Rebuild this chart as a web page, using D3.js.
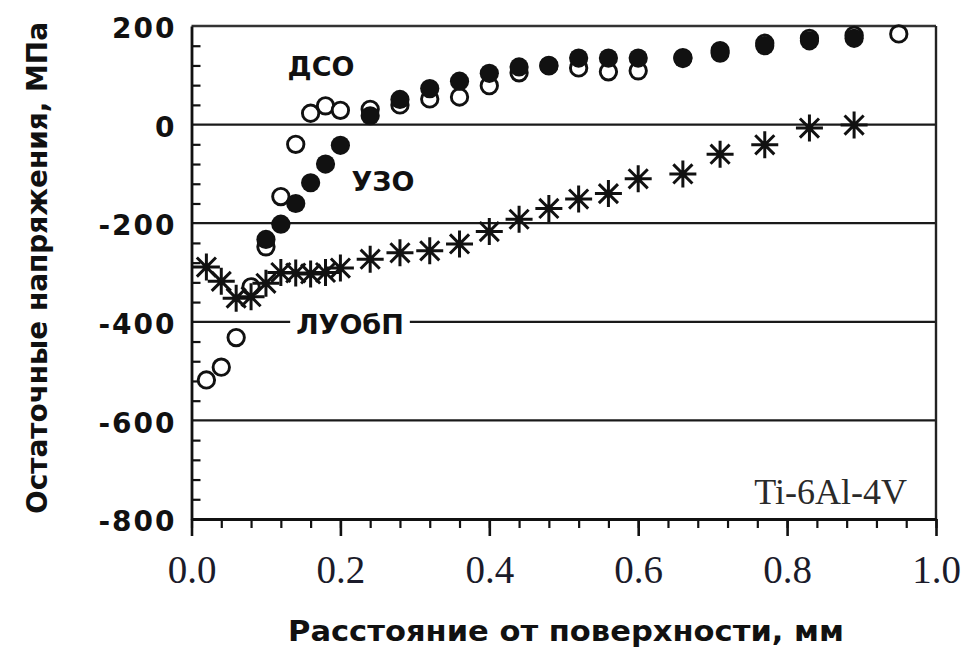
<!DOCTYPE html>
<html>
<head>
<meta charset="utf-8">
<script src="https://cdn.jsdelivr.net/npm/d3@7"></script>
<style>
  html, body { margin: 0; padding: 0; background: #fff; }
  svg { display: block; }
</style>
</head>
<body>
<svg id="chart" width="963" height="647"></svg>
<script>
// Depth below the surface, mm
const depth = [0.02, 0.04, 0.06, 0.08, 0.10, 0.12, 0.14, 0.16, 0.18, 0.20,
               0.24, 0.28, 0.32, 0.36, 0.40, 0.44, 0.48, 0.52, 0.56, 0.60,
               0.66, 0.71, 0.77, 0.83, 0.89, 0.95];

// ДСО — open circles, MPa
const dsoStress = [-518, -492, -432, -329, -248, -146, -40, 23, 38, 29,
                   31, 40, 52, 56, 79, 105, 120, 115, 107, 109,
                   136, 150, 165, 175, 181, 184];

// УЗО — filled circles, MPa (depths 0.10 … 0.89)
const uzoDepth = depth.slice(4, 25);
const uzoStress = [-233, -202, -160, -118, -80, -42,
                   18, 51, 73, 88, 104, 117, 119, 135, 135, 135,
                   134, 145, 160, 170, 175];

// ЛУОбП — asterisks, MPa (depths 0.02 … 0.89)
const luobpDepth = depth.slice(0, 25);
const luobpStress = [-289, -318, -352, -349, -322, -300, -301, -303, -300, -291,
                     -273, -260, -256, -242, -217, -192, -170, -151, -140, -110,
                     -100, -60, -41, -7, -1];

const xTicks = [0, 0.2, 0.4, 0.6, 0.8, 1.0];
const yTicks = [200, 0, -200, -400, -600, -800];
const gridValues = [0, -200, -400, -600];
const seriesNames = ["ДСО", "УЗО", "ЛУОбП"];
const alloyName = "Ti-6Al-4V";
const xTitle = "Расстояние от поверхности, мм";
const yTitle = "Остаточные напряжения, МПа";

const svg = d3.select("#chart");
const x = d3.scaleLinear().domain([0, 1]).range([191.5, 936]);
const y = d3.scaleLinear().domain([-800, 200]).range([519, 26]);

const sansBold = "'DejaVu Sans', sans-serif";
const serif = "'Liberation Serif', 'Times New Roman', serif";

// horizontal reference lines
svg.append("g").selectAll("line").data(gridValues).join("line")
  .attr("x1", x(0)).attr("x2", x(1))
  .attr("y1", d => y(d)).attr("y2", d => y(d))
  .attr("stroke", "#1a1a1a").attr("stroke-width", 2.3);

// frame: top and right edges
svg.append("line")
  .attr("x1", x(0)).attr("x2", x(1)).attr("y1", y(200)).attr("y2", y(200))
  .attr("stroke", "#333").attr("stroke-width", 2.4);
svg.append("line")
  .attr("x1", x(1)).attr("x2", x(1)).attr("y1", y(200)).attr("y2", y(-800))
  .attr("stroke", "#222").attr("stroke-width", 2.4);

// bottom axis: minor ticks every 0.04, major ticks with labels every 0.2
const xMinor = svg.append("g").attr("transform", `translate(0,${y(-800)})`)
  .call(d3.axisBottom(x).tickValues(d3.range(0, 1.0001, 0.04)).tickSize(9).tickFormat(""));
xMinor.select(".domain").remove();
xMinor.selectAll(".tick line").attr("stroke", "#111").attr("stroke-width", 2.2);

const xMajor = svg.append("g").attr("transform", `translate(0,${y(-800)})`)
  .call(d3.axisBottom(x).tickValues(xTicks).tickSize(17).tickSizeOuter(0).tickFormat(d3.format(".1f")));
xMajor.select(".domain").attr("stroke", "#111").attr("stroke-width", 2.8);
xMajor.selectAll(".tick line").attr("stroke", "#111").attr("stroke-width", 2.6);
xMajor.selectAll(".tick text")
  .attr("y", 64).attr("dy", 0)
  .attr("font-family", serif).attr("font-size", 39).attr("fill", "#1b1b2a");

// left axis: inward minor ticks every 40 MPa, bold labels with plain hyphen minus
const yMinor = svg.append("g").attr("transform", `translate(${x(0)},0)`)
  .call(d3.axisLeft(y).tickValues(d3.range(-800, 201, 40).filter(v => v % 200 !== 0))
    .tickSize(-9).tickFormat(""));
yMinor.select(".domain").remove();
yMinor.selectAll(".tick line").attr("stroke", "#111").attr("stroke-width", 2.2);

const yMajor = svg.append("g").attr("transform", `translate(${x(0)},0)`)
  .call(d3.axisLeft(y).tickValues(yTicks).tickSize(0).tickSizeOuter(0).tickPadding(15)
    .tickFormat(d => String(d)));
yMajor.select(".domain").attr("stroke", "#111").attr("stroke-width", 2.8);
yMajor.selectAll(".tick text")
  .attr("dy", "0.42em")
  .attr("font-family", sansBold).attr("font-weight", 700).attr("font-size", 28)
  .attr("letter-spacing", 2).attr("fill", "#111");

// eight-armed asterisk marker
const symbolStar8 = {
  draw(ctx, size) {
    const r = Math.sqrt(size) / 2;
    const d = r * Math.SQRT1_2;
    ctx.moveTo(0, -r); ctx.lineTo(0, r);
    ctx.moveTo(-r, 0); ctx.lineTo(r, 0);
    ctx.moveTo(-d, -d); ctx.lineTo(d, d);
    ctx.moveTo(-d, d); ctx.lineTo(d, -d);
  }
};

// ДСО: open circles
svg.append("g").selectAll("circle").data(d3.zip(depth, dsoStress)).join("circle")
  .attr("cx", d => x(d[0])).attr("cy", d => y(d[1])).attr("r", 8.2)
  .attr("fill", "#fff").attr("stroke", "#111").attr("stroke-width", 2.9);

// УЗО: filled circles
svg.append("g").selectAll("circle").data(d3.zip(uzoDepth, uzoStress)).join("circle")
  .attr("cx", d => x(d[0])).attr("cy", d => y(d[1])).attr("r", 9.6)
  .attr("fill", "#111");

// ЛУОбП: asterisks
svg.append("g").selectAll("path").data(d3.zip(luobpDepth, luobpStress)).join("path")
  .attr("transform", d => `translate(${x(d[0])},${y(d[1])})`)
  .attr("d", d3.symbol().type(symbolStar8).size(27 * 27))
  .attr("fill", "none").attr("stroke", "#111").attr("stroke-width", 3);

// series labels
const labelStyle = sel => sel.attr("font-family", sansBold).attr("font-weight", 700)
  .attr("fill", "#111").attr("text-anchor", "middle");
svg.append("text").call(labelStyle).attr("x", 321).attr("y", 76).attr("font-size", 27).text(seriesNames[0]);
svg.append("text").call(labelStyle).attr("x", 383).attr("y", 191).attr("font-size", 27).text(seriesNames[1]);

const luobpLabel = svg.append("g");
const bgRect = luobpLabel.append("rect").attr("fill", "#fff");
const luobpText = luobpLabel.append("text").call(labelStyle)
  .attr("x", 350).attr("y", 334).attr("font-size", 27).text(seriesNames[2]);
const bb = luobpText.node().getBBox();
bgRect.attr("x", bb.x - 6).attr("y", bb.y).attr("width", bb.width + 12).attr("height", bb.height);

// alloy name
svg.append("text").attr("x", 907).attr("y", 504).attr("text-anchor", "end")
  .attr("font-family", serif).attr("font-size", 36).attr("fill", "#2a2a2a").text(alloyName);

// axis titles
svg.append("text").attr("x", 566).attr("y", 641).attr("text-anchor", "middle")
  .attr("font-family", sansBold).attr("font-weight", 700).attr("font-size", 28).attr("fill", "#111")
  .attr("textLength", 556).attr("lengthAdjust", "spacingAndGlyphs")
  .text(xTitle);
svg.append("text").attr("transform", "translate(47,268) rotate(-90)").attr("text-anchor", "middle")
  .attr("font-family", sansBold).attr("font-weight", 700).attr("font-size", 28).attr("fill", "#111")
  .attr("textLength", 492).attr("lengthAdjust", "spacingAndGlyphs")
  .text(yTitle);
</script>
</body>
</html>
